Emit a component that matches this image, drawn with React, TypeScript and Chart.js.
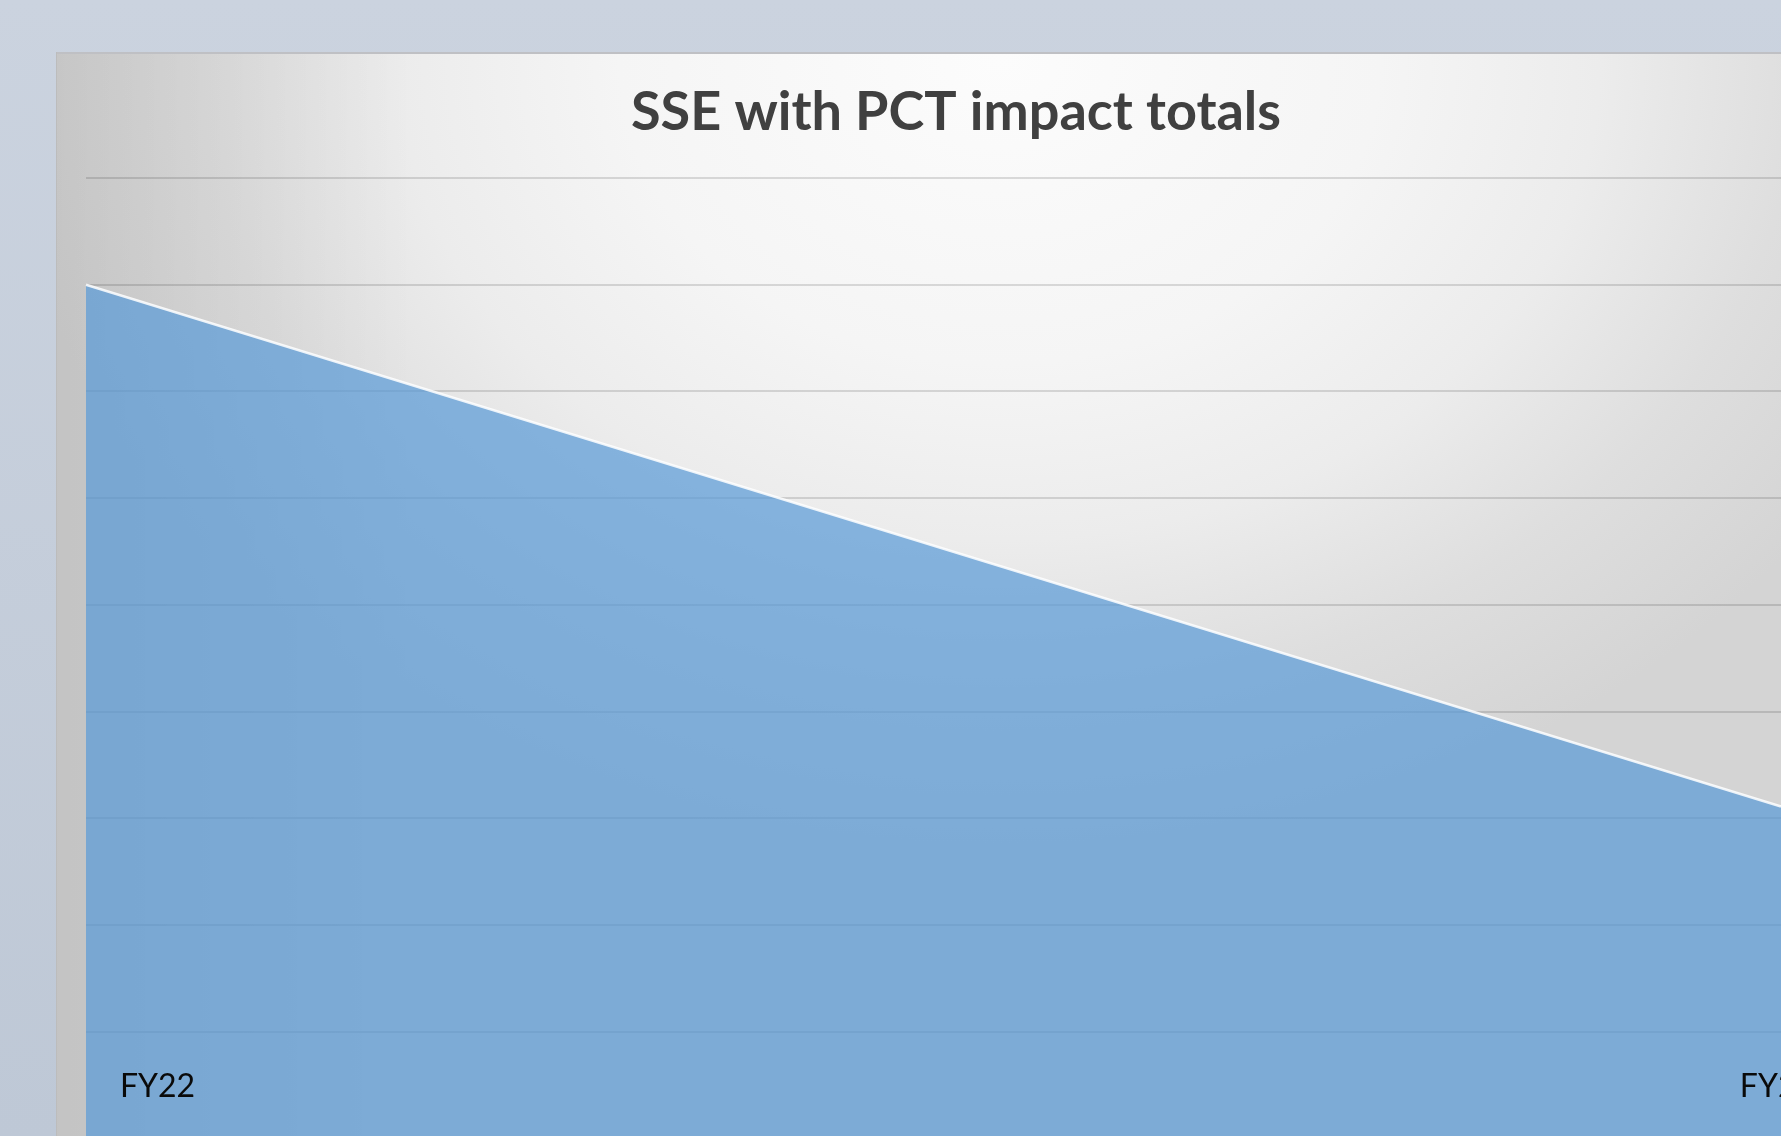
import React, { useEffect, useRef } from "react";
import { Chart, registerables } from "chart.js";

Chart.register(...registerables);

const chartTitle = "SSE with PCT impact totals";
const categories = ["FY22", "FY23"];
const seriesValues = [4000, 1555];
const yAxisMin = 0;
const yAxisMax = 4500;
const yAxisStep = 500;

const CANVAS_W = 1800;
const CANVAS_H = 1110;

const backgroundPlugin = {
  id: "panelBackground",
  afterLayout(chart: any) {
    // centre the title over the whole chart panel
    const tb = chart.titleBlock;
    if (tb) {
      tb.left = 0;
      tb.right = chart.width;
      tb.width = chart.width;
    }
  },
  beforeDraw(chart: any) {
    const { ctx, width, height } = chart;
    ctx.save();
    const cx = 944;
    const cy = 8;
    const rx = 1000;
    const ry = 800;
    ctx.translate(cx, cy);
    ctx.scale(1, ry / rx);
    const g = ctx.createRadialGradient(0, 0, 0, 0, 0, rx);
    g.addColorStop(0, "#fcfcfc");
    g.addColorStop(0.38, "#f5f5f5");
    g.addColorStop(0.6, "#ececec");
    g.addColorStop(0.8, "#dedede");
    g.addColorStop(1, "#d4d4d4");
    ctx.fillStyle = g;
    ctx.fillRect(-cx, -cy * (rx / ry), width, height * (rx / ry) + 10);
    ctx.restore();
    ctx.save();
    const lg = ctx.createLinearGradient(0, 0, 360, 0);
    lg.addColorStop(0, "rgba(0,0,0,0.08)");
    lg.addColorStop(1, "rgba(0,0,0,0)");
    ctx.fillStyle = lg;
    ctx.fillRect(0, 0, 360, height);
    ctx.fillStyle = "#bfc0c4";
    ctx.fillRect(0, 0, width, 2);
    ctx.fillStyle = "#bcbcbc";
    ctx.fillRect(0, 0, 1, height);
    ctx.restore();
  },
};

export default function App() {
  const canvasRef = useRef<HTMLCanvasElement | null>(null);

  useEffect(() => {
    if (!canvasRef.current) return;
    const chart = new Chart(canvasRef.current, {
      type: "line",
      data: {
        labels: categories,
        datasets: [
          {
            label: "SSE with PCT impact totals",
            data: seriesValues,
            fill: "origin",
            backgroundColor: "rgba(91,155,215,0.72)",
            borderColor: "rgba(255,255,255,0.85)",
            borderWidth: 2.5,
            pointRadius: 0,
            tension: 0,
          },
        ],
      },
      options: {
        animation: false,
        responsive: false,
        devicePixelRatio: 1,
        layout: { padding: { left: 30, right: 75, top: 0, bottom: 23.7 } },
        plugins: {
          legend: { display: false },
          tooltip: { enabled: false },
          title: {
            display: true,
            text: chartTitle,
            color: "#404040",
            font: { family: "Lato", size: 54, weight: "bold", lineHeight: 1.2 },
            padding: { top: 28, bottom: 33.2 },
          },
        },
        scales: {
          x: {
            type: "category",
            position: { y: 500 } as any,
            offset: false,
            grid: { display: false, drawTicks: false },
            border: { display: false },
            afterFit(scale: any) {
              scale.paddingLeft = 0;
              scale.paddingRight = 0;
            },
            ticks: {
              z: 2,
              align: "inner",
              labelOffset: 34,
              padding: 36,
              color: "#0a0a0a",
              font: { family: "Lato", size: 32 },
              maxRotation: 0,
              autoSkip: false,
            },
          },
          y: {
            min: yAxisMin,
            max: yAxisMax,
            grid: { color: "rgba(0,0,0,0.13)", lineWidth: 2, drawTicks: false },
            border: { display: false },
            ticks: { display: false, stepSize: yAxisStep },
          },
        },
      },
      plugins: [backgroundPlugin],
    });
    return () => chart.destroy();
  }, []);

  return (
    <div
      style={{
        position: "fixed",
        left: 0,
        top: 0,
        width: "100vw",
        height: "100vh",
        overflow: "hidden",
        background: "linear-gradient(#cbd3df, #bec8d6)",
      }}
    >
      <canvas
        ref={canvasRef}
        width={CANVAS_W}
        height={CANVAS_H}
        style={{ position: "absolute", left: 56, top: 52, width: CANVAS_W, height: CANVAS_H }}
      />
    </div>
  );
}
